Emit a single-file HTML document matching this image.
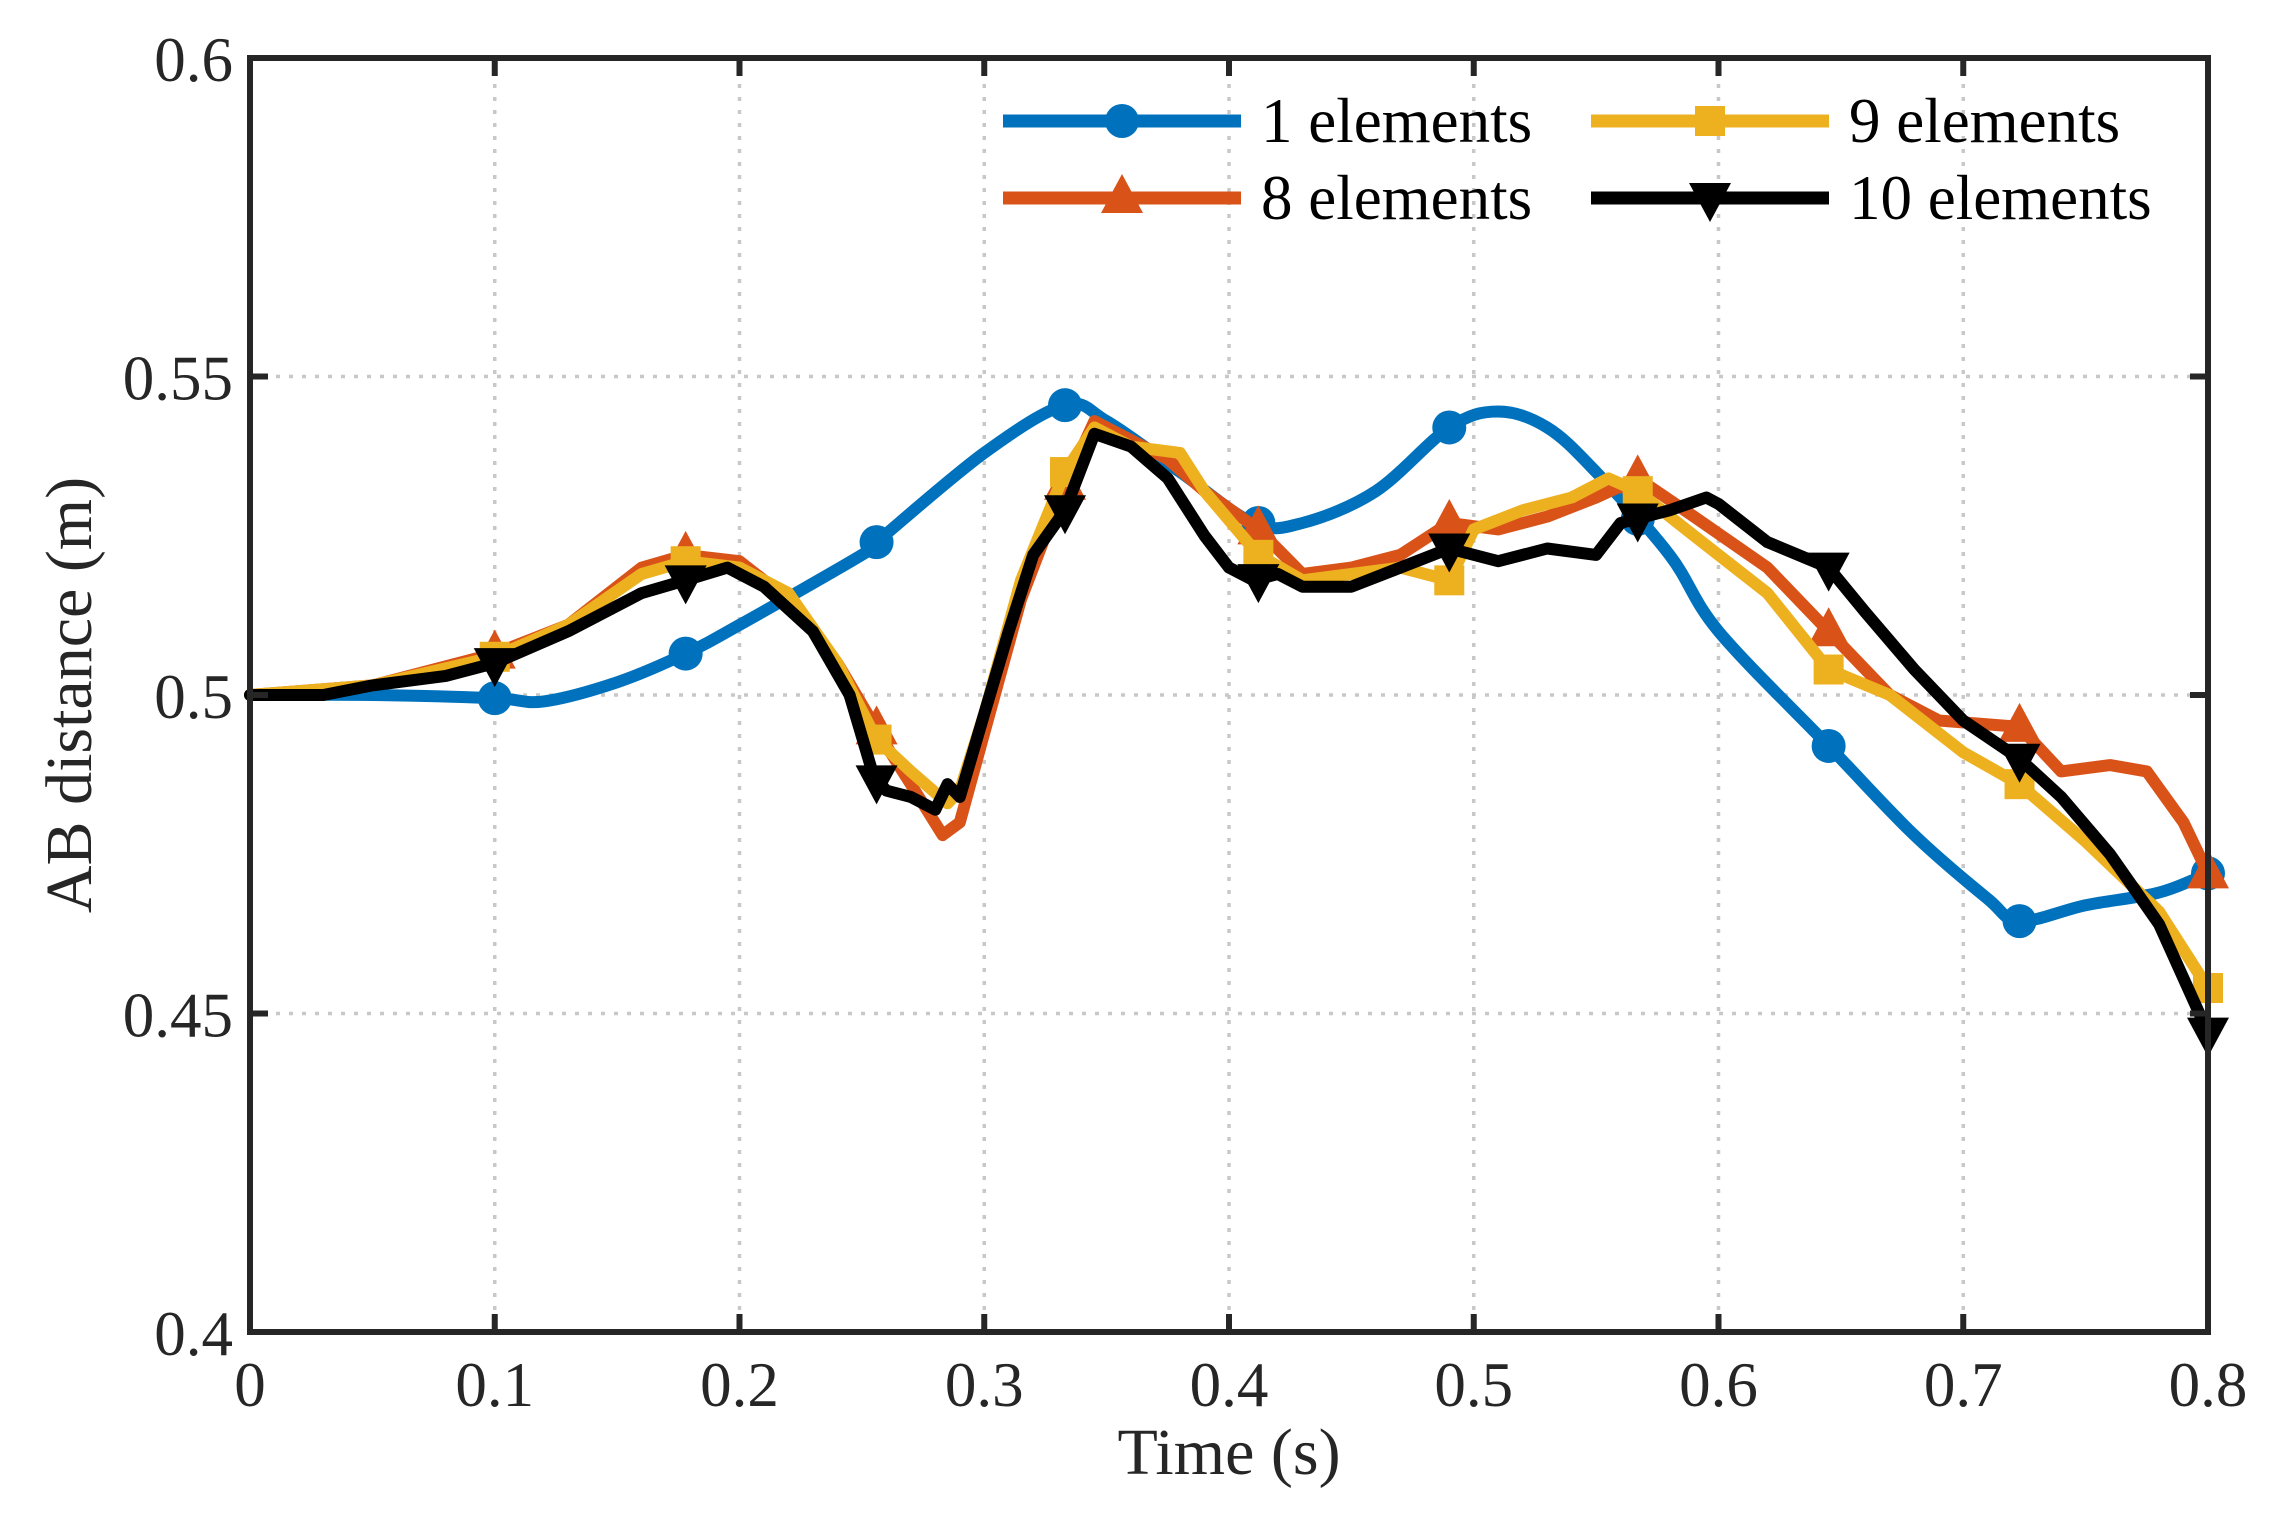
<!DOCTYPE html>
<html><head><meta charset="utf-8"><style>
html,body{margin:0;padding:0;background:#fff;}
svg{display:block;font-family:"Liberation Serif",serif;}
</style></head><body>
<svg id="chart" width="2278" height="1525" viewBox="0 0 2278 1525"></svg>
<script>
const xTicks=[0,0.1,0.2,0.3,0.4,0.5,0.6,0.7,0.8];
const xTickLabels=["0","0.1","0.2","0.3","0.4","0.5","0.6","0.7","0.8"];
const yTicks=[0.4,0.45,0.5,0.55,0.6];
const yTickLabels=["0.4","0.45","0.5","0.55","0.6"];
const markerTimes=[0.1,0.178,0.256,0.333,0.412,0.49,0.567,0.645,0.723,0.8];
const seriesNames=["1 elements","8 elements","9 elements","10 elements"];
const t1=[0,0.05,0.1,0.12,0.15,0.178,0.2,0.25,0.256,0.3,0.333,0.35,0.38,0.41,0.43,0.46,0.49,0.51,0.53,0.55,0.58,0.6,0.645,0.68,0.71,0.723,0.75,0.78,0.8];
const v1=[0.5,0.5,0.4995,0.499,0.502,0.5065,0.511,0.522,0.524,0.538,0.5455,0.543,0.535,0.527,0.527,0.532,0.542,0.5445,0.542,0.535,0.522,0.51,0.492,0.478,0.468,0.4645,0.467,0.469,0.472];
const t8=[0,0.05,0.1,0.13,0.16,0.178,0.2,0.22,0.24,0.26,0.27,0.283,0.29,0.3,0.315,0.333,0.345,0.36,0.375,0.39,0.412,0.43,0.45,0.47,0.49,0.51,0.53,0.55,0.567,0.59,0.62,0.645,0.67,0.69,0.723,0.74,0.76,0.775,0.79,0.8];
const v8=[0.5,0.5015,0.5065,0.511,0.52,0.522,0.521,0.515,0.505,0.492,0.486,0.478,0.48,0.494,0.515,0.533,0.543,0.54,0.537,0.532,0.526,0.519,0.52,0.522,0.527,0.526,0.528,0.531,0.534,0.528,0.52,0.51,0.5,0.496,0.495,0.488,0.489,0.488,0.48,0.472];
const t9=[0,0.05,0.1,0.13,0.16,0.178,0.2,0.22,0.24,0.256,0.27,0.285,0.29,0.3,0.315,0.333,0.345,0.36,0.38,0.39,0.412,0.43,0.45,0.47,0.49,0.5,0.52,0.54,0.555,0.567,0.59,0.62,0.645,0.67,0.7,0.723,0.75,0.78,0.8];
const v9=[0.5,0.5015,0.506,0.511,0.519,0.521,0.52,0.516,0.505,0.493,0.488,0.483,0.485,0.497,0.518,0.535,0.542,0.539,0.538,0.532,0.522,0.518,0.519,0.52,0.518,0.526,0.529,0.531,0.534,0.532,0.525,0.516,0.504,0.5,0.491,0.486,0.477,0.466,0.454];
const t10=[0,0.03,0.05,0.08,0.1,0.13,0.16,0.178,0.195,0.21,0.23,0.245,0.255,0.26,0.27,0.28,0.285,0.29,0.3,0.31,0.32,0.333,0.345,0.36,0.375,0.39,0.4,0.41,0.42,0.43,0.45,0.47,0.49,0.51,0.53,0.55,0.56,0.58,0.595,0.6,0.62,0.645,0.66,0.68,0.7,0.723,0.74,0.76,0.78,0.8];
const v10=[0.5,0.5,0.5015,0.503,0.505,0.51,0.516,0.518,0.52,0.517,0.51,0.5,0.487,0.485,0.484,0.482,0.486,0.484,0.497,0.51,0.522,0.529,0.541,0.539,0.534,0.525,0.52,0.518,0.519,0.517,0.517,0.52,0.523,0.521,0.523,0.522,0.527,0.529,0.531,0.53,0.524,0.52,0.513,0.504,0.496,0.49,0.484,0.475,0.464,0.447];

const NS="http://www.w3.org/2000/svg";
const svg=document.getElementById('chart');
const L=250,R=2208,T=58,B=1332;
const xs=v=>L+(v-0)/(0.8-0)*(R-L);
const ys=v=>B-(v-0.4)/(0.6-0.4)*(B-T);
function mk(tag,attrs,parent){const e=document.createElementNS(NS,tag);for(const k in attrs)e.setAttribute(k,attrs[k]);(parent||svg).appendChild(e);return e;}

const grid=mk('g',{});


xTicks.forEach(v=>{if(v>0&&v<0.8)mk('line',{x1:xs(v),x2:xs(v),y1:T,y2:B,stroke:'#c8c8c8','stroke-width':3.5,'stroke-dasharray':'4 9'},grid);});
yTicks.forEach(v=>{if(v>0.4&&v<0.6)mk('line',{x1:L,x2:R,y1:ys(v),y2:ys(v),stroke:'#c8c8c8','stroke-width':3.5,'stroke-dasharray':'4 9'},grid);});

const series=[
 {t:t1,v:v1,c:'#0072BD',m:'circle',name:'series-1-elements',smooth:true},
 {t:t8,v:v8,c:'#D95319',m:'tri',name:'series-8-elements'},
 {t:t9,v:v9,c:'#EDB120',m:'square',name:'series-9-elements'},
 {t:t10,v:v10,c:'#000000',m:'tridown',name:'series-10-elements'}
];
function interp(t,v,x){for(let i=1;i<t.length;i++){if(x<=t[i]){const f=(x-t[i-1])/(t[i]-t[i-1]);return v[i-1]+f*(v[i]-v[i-1]);}}return v[v.length-1];}
function pathD(t,v,smooth){
 const P=t.map((tt,i)=>[xs(tt),ys(v[i])]);
 if(!smooth)return P.map((p,i)=>(i?'L':'M')+p[0].toFixed(1)+' '+p[1].toFixed(1)).join(' ');
 let d='M'+P[0][0]+' '+P[0][1];
 for(let i=0;i<P.length-1;i++){
  const p0=P[Math.max(0,i-1)],p1=P[i],p2=P[i+1],p3=P[Math.min(P.length-1,i+2)];
  const c1=[p1[0]+(p2[0]-p0[0])/6,p1[1]+(p2[1]-p0[1])/6];
  const c2=[p2[0]-(p3[0]-p1[0])/6,p2[1]-(p3[1]-p1[1])/6];
  d+=` C${c1[0].toFixed(1)} ${c1[1].toFixed(1)} ${c2[0].toFixed(1)} ${c2[1].toFixed(1)} ${p2[0].toFixed(1)} ${p2[1].toFixed(1)}`;
 }
 return d;
}
function marker(type,x,y,c,g){
 if(type==='circle')return mk('circle',{cx:x,cy:y,r:17,fill:c},g);
 if(type==='square')return mk('rect',{x:x-15,y:y-15,width:30,height:30,fill:c},g);
 if(type==='tri')return mk('polygon',{points:`${x},${y-24} ${x-21},${y+15} ${x+21},${y+15}`,fill:c},g);
 return mk('polygon',{points:`${x},${y+24} ${x-21},${y-15} ${x+21},${y-15}`,fill:c},g);
}
series.forEach(s=>{
 const g=mk('g',{});
 
 
 const p=mk('path',{d:pathD(s.t,s.v,s.smooth),fill:'none',stroke:s.c,'stroke-width':12,'stroke-linejoin':'round','stroke-linecap':'round'},g);
 
 
 markerTimes.forEach(mt=>{
  const m=marker(s.m,xs(mt),ys(interp(s.t,s.v,mt)),s.c,g);
  
  
 });
});

const box=mk('rect',{x:L,y:T,width:R-L,height:B-T,fill:'none',stroke:'#262626','stroke-width':6});


const ticks=mk('g',{stroke:'#262626','stroke-width':6});


xTicks.forEach(v=>{mk('line',{x1:xs(v),x2:xs(v),y1:B,y2:B-18},ticks);mk('line',{x1:xs(v),x2:xs(v),y1:T,y2:T+18},ticks);});
yTicks.forEach(v=>{mk('line',{x1:L,x2:L+18,y1:ys(v),y2:ys(v)},ticks);mk('line',{x1:R,x2:R-18,y1:ys(v),y2:ys(v)},ticks);});

xTicks.forEach((v,i)=>{const t=mk('text',{x:xs(v),y:1406,'font-size':63,'text-anchor':'middle',fill:'#262626'});t.textContent=xTickLabels[i];
 
 });
yTicks.forEach((v,i)=>{const t=mk('text',{x:233,y:ys(v)+23,'font-size':63,'text-anchor':'end',fill:'#262626'});t.textContent=yTickLabels[i];
 
 });

const xl=mk('text',{x:1229,y:1474,'font-size':66,'text-anchor':'middle',fill:'#262626'});xl.textContent='Time (s)';


const yl=mk('text',{x:0,y:0,'font-size':66,'text-anchor':'middle',fill:'#262626',transform:'translate(91,695) rotate(-90)'});yl.textContent='AB distance (m)';



const lg=mk('g',{});


const lpos=[[1003,121],[1003,198],[1591,121],[1591,198]];
series.forEach((s,i)=>{
 const [lx,ly]=lpos[i];
 const e=mk('g',{},lg);
 
 
 mk('line',{x1:lx,x2:lx+238,y1:ly,y2:ly,stroke:s.c,'stroke-width':13},e);
 marker(s.m,lx+119,ly,s.c,e);
 const t=mk('text',{x:lx+258,y:ly+21,'font-size':63,fill:'#000'},e);
 t.textContent=seriesNames[i];
});
</script>
</body></html>
